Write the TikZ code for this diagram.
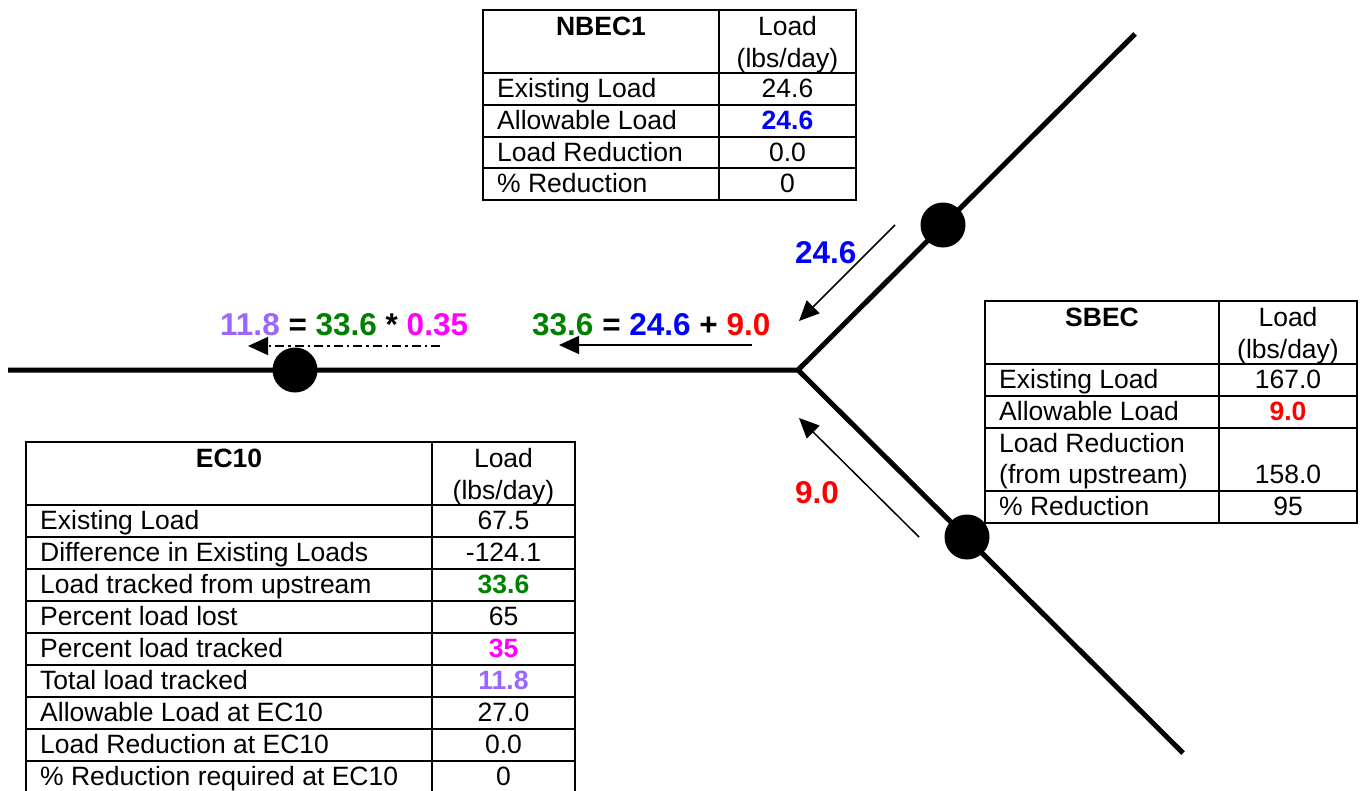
\documentclass[tikz,border=0pt]{standalone}
\usepackage{fontspec}
\setmainfont{Liberation Sans}
\usetikzlibrary{arrows.meta}
\definecolor{cpurple}{RGB}{153,102,255}
\definecolor{cgreen}{RGB}{0,128,0}
\definecolor{cmag}{RGB}{255,0,255}
\definecolor{cblue}{RGB}{0,0,255}
\definecolor{cred}{RGB}{255,0,0}
\begin{document}
\begin{tikzpicture}[x=1pt,y=-1pt,
  tbl/.style={line width=1.8pt},
  cell/.style={inner sep=0pt,font=\fontsize{26.5}{30}\selectfont},
  lab/.style={inner sep=0pt,font=\fontsize{31.5}{36}\selectfont\bfseries},
  river/.style={line width=5pt},
  station/.style={circle,fill=black,minimum size=45pt,inner sep=0pt},
  flow/.style={line width=1.5pt,-{Triangle[length=20pt,width=18pt]}},
  dflow/.style={line width=1.3pt,-{Triangle[length=20pt,width=18pt]},dash pattern=on 9pt off 4pt on 2.5pt off 4pt}]
\useasboundingbox (0,0) rectangle (1363,790);
% river
\coordinate (W) at (8,370);
\coordinate (J) at (798,370);
\coordinate (NE) at (1135,34);
\coordinate (SE) at (1183,753);
\draw[river] (W) -- (J) -- (NE);
\draw[river] (J) -- (SE);
\node[station] (s1) at (295,370) {};
\node[station] (s2) at (943,225) {};
\node[station] (s3) at (967,537) {};
% flow arrows
\coordinate (a1s) at (895,225); \coordinate (a1e) at (799,321);
\coordinate (a2s) at (919,537); \coordinate (a2e) at (799,418);
\coordinate (a3s) at (752,345); \coordinate (a3e) at (559,345);
\coordinate (a4s) at (440,346); \coordinate (a4e) at (248,346);
\draw[flow] (a1s) -- (a1e);
\draw[flow] (a2s) -- (a2e);
\draw[flow] (a3s) -- (a3e);
\draw[dflow] (a4s) -- (a4e);
% labels
\node[lab,text=cblue,anchor=base west] (l1) at (795,263) {24.6};
\node[lab,text=cred,anchor=base west] (l2) at (795,503) {9.0};
\node[lab,anchor=base west] (l3) at (532,335) {\textcolor{cgreen}{33.6} = \textcolor{cblue}{24.6} + \textcolor{cred}{9.0}};
\node[lab,anchor=base west] (l4) at (220,335) {\textcolor{cpurple}{11.8} = \textcolor{cgreen}{33.6} * \textcolor{cmag}{0.35}};
% NBEC1 table
\draw[tbl] (483,10) rectangle (856,200);
\draw[tbl] (719,10) -- (719,200);
\foreach \y in {73,105,137,168} \draw[tbl] (483,\y) -- (856,\y);
\node[cell,anchor=base] (nh) at (601,35) {\bfseries NBEC1};
\node[cell,anchor=base] (nu1) at (787.5,35) {Load};
\node[cell,anchor=base] (nu2) at (787.5,67) {(lbs/day)};
\node[cell,anchor=base west] (nr1) at (497,97) {Existing Load};
\node[cell,anchor=base] (nv1) at (787.5,97) {24.6};
\node[cell,anchor=base west] (nr2) at (497,129) {Allowable Load};
\node[cell,anchor=base,text=cblue] (nv2) at (787.5,129) {\bfseries 24.6};
\node[cell,anchor=base west] (nr3) at (497,161) {Load Reduction};
\node[cell,anchor=base] (nv3) at (787.5,161) {0.0};
\node[cell,anchor=base west] (nr4) at (497,192) {\% Reduction};
\node[cell,anchor=base] (nv4) at (787.5,192) {0};
% SBEC table
\draw[tbl] (985,301) rectangle (1357,523);
\draw[tbl] (1219,301) -- (1219,523);
\foreach \y in {364,396,428,491} \draw[tbl] (985,\y) -- (1357,\y);
\node[cell,anchor=base] (sh) at (1102,326) {\bfseries SBEC};
\node[cell,anchor=base] (su1) at (1288,326) {Load};
\node[cell,anchor=base] (su2) at (1288,358) {(lbs/day)};
\node[cell,anchor=base west] (sr1) at (999,388) {Existing Load};
\node[cell,anchor=base] (sv1) at (1288,388) {167.0};
\node[cell,anchor=base west] (sr2) at (999,420) {Allowable Load};
\node[cell,anchor=base,text=cred] (sv2) at (1288,420) {\bfseries 9.0};
\node[cell,anchor=base west] (sr3a) at (999,452) {Load Reduction};
\node[cell,anchor=base west] (sr3b) at (999,483) {(from upstream)};
\node[cell,anchor=base] (sv3) at (1288,483) {158.0};
\node[cell,anchor=base west] (sr4) at (999,515) {\% Reduction};
\node[cell,anchor=base] (sv4) at (1288,515) {95};
% EC10 table
\draw[tbl] (26,442) rectangle (575,796);
\draw[tbl] (432,442) -- (432,796);
\foreach \y in {505,537,569,601,633,665,697,729,761} \draw[tbl] (26,\y) -- (575,\y);
\node[cell,anchor=base] (eh) at (229,467) {\bfseries EC10};
\node[cell,anchor=base] (eu1) at (503.5,467) {Load};
\node[cell,anchor=base] (eu2) at (503.5,499) {(lbs/day)};
\node[cell,anchor=base west] (er1) at (40,529) {Existing Load};
\node[cell,anchor=base] (ev1) at (503.5,529) {67.5};
\node[cell,anchor=base west] (er2) at (40,561) {Difference in Existing Loads};
\node[cell,anchor=base] (ev2) at (503.5,561) {-124.1};
\node[cell,anchor=base west] (er3) at (40,593) {Load tracked from upstream};
\node[cell,anchor=base,text=cgreen] (ev3) at (503.5,593) {\bfseries 33.6};
\node[cell,anchor=base west] (er4) at (40,625) {Percent load lost};
\node[cell,anchor=base] (ev4) at (503.5,625) {65};
\node[cell,anchor=base west] (er5) at (40,657) {Percent load tracked};
\node[cell,anchor=base,text=cmag] (ev5) at (503.5,657) {\bfseries 35};
\node[cell,anchor=base west] (er6) at (40,689) {Total load tracked};
\node[cell,anchor=base,text=cpurple] (ev6) at (503.5,689) {\bfseries 11.8};
\node[cell,anchor=base west] (er7) at (40,721) {Allowable Load at EC10};
\node[cell,anchor=base] (ev7) at (503.5,721) {27.0};
\node[cell,anchor=base west] (er8) at (40,753) {Load Reduction at EC10};
\node[cell,anchor=base] (ev8) at (503.5,753) {0.0};
\node[cell,anchor=base west] (er9) at (40,785) {\% Reduction required at EC10};
\node[cell,anchor=base] (ev9) at (503.5,785) {0};
\end{tikzpicture}
\end{document}
